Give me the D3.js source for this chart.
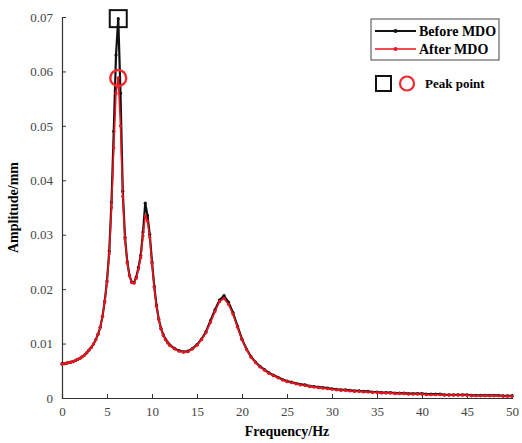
<!DOCTYPE html>
<html>
<head>
<meta charset="utf-8">
<script src="https://cdn.jsdelivr.net/npm/d3@7"></script>
<style>
  body { margin: 0; background: #fff; }
  svg text { font-family: "Liberation Serif", "Times New Roman", serif; }
</style>
</head>
<body>
<div id="chart"></div>
<script>
// frequency grid (Hz)
const freq = [
  0, 0.25, 0.5, 0.75, 1, 1.25, 1.5, 1.75, 2, 2.25, 2.5, 2.75, 3, 3.25, 3.5, 3.75,
  4, 4.25, 4.5, 4.75, 5, 5.25, 5.5, 5.75, 6, 6.25, 6.5, 6.75, 7, 7.25, 7.5, 7.75,
  8, 8.25, 8.5, 8.75, 9, 9.25, 9.5, 9.75, 10, 10.25, 10.5, 10.75, 11, 11.25, 11.5, 11.75, 12,
  12.5, 13, 13.5, 14, 14.5, 15, 15.5, 16, 16.5, 17, 17.5, 18, 18.5, 19, 19.5, 20,
  20.5, 21, 21.5, 22, 22.5, 23, 23.5, 24, 24.5, 25, 25.5, 26, 26.5, 27, 27.5, 28,
  28.5, 29, 29.5, 30, 30.5, 31, 31.5, 32, 32.5, 33, 33.5, 34, 34.5, 35, 35.5, 36,
  36.5, 37, 37.5, 38, 38.5, 39, 39.5, 40, 40.5, 41, 41.5, 42, 42.5, 43, 43.5, 44,
  44.5, 45, 45.5, 46, 46.5, 47, 47.5, 48, 48.5, 49, 49.5, 50
];

// amplitude (mm) before MDO
const before = [
  0.0063, 0.0063, 0.0064, 0.0065, 0.0066, 0.0067, 0.0069, 0.0071, 0.0073, 0.0076, 0.0079, 0.0083, 0.0088, 0.0093, 0.0099, 0.0107,
  0.0117, 0.0130, 0.0150, 0.0178, 0.0215, 0.0270, 0.0360, 0.0490, 0.0630, 0.0697, 0.0560, 0.0380, 0.0295, 0.0250, 0.0225, 0.0213,
  0.0212, 0.0222, 0.0240, 0.0262, 0.0305, 0.0358, 0.0335, 0.0300, 0.0250, 0.0205, 0.0170, 0.0145, 0.0128, 0.0116, 0.0108, 0.0102, 0.0097,
  0.0091, 0.0087, 0.0085, 0.0086, 0.0091, 0.0098, 0.0108, 0.0122, 0.0142, 0.0162, 0.0180, 0.0188, 0.0176, 0.0157, 0.0132, 0.0108,
  0.0090, 0.0076, 0.0066, 0.0058, 0.0052, 0.0046, 0.0042, 0.0038, 0.0034, 0.0031, 0.0029, 0.0027, 0.0025, 0.0024, 0.0022, 0.0021,
  0.0020, 0.0019, 0.0018, 0.0017, 0.0016, 0.0015, 0.0015, 0.0014, 0.0013, 0.0013, 0.0012, 0.0012, 0.0011, 0.0011, 0.0010, 0.0010,
  0.0010, 0.0009, 0.0009, 0.0009, 0.0008, 0.0008, 0.0008, 0.0008, 0.0007, 0.0007, 0.0007, 0.0007, 0.0006, 0.0006, 0.0006, 0.0006,
  0.0006, 0.0006, 0.0005, 0.0005, 0.0005, 0.0005, 0.0005, 0.0005, 0.0005, 0.0004, 0.0004, 0.0004
];

// amplitude (mm) after MDO
const after = [
  0.0062, 0.0063, 0.0064, 0.0065, 0.0066, 0.0067, 0.0069, 0.0071, 0.0073, 0.0076, 0.0079, 0.0083, 0.0088, 0.0093, 0.0099, 0.0107,
  0.0117, 0.0130, 0.0150, 0.0178, 0.0213, 0.0265, 0.0350, 0.0460, 0.0560, 0.0588, 0.0500, 0.0370, 0.0292, 0.0248, 0.0224, 0.0212,
  0.0211, 0.0220, 0.0237, 0.0258, 0.0298, 0.0335, 0.0325, 0.0295, 0.0247, 0.0203, 0.0168, 0.0144, 0.0127, 0.0115, 0.0107, 0.0101, 0.0096,
  0.0090, 0.0086, 0.0084, 0.0085, 0.0090, 0.0097, 0.0107, 0.0120, 0.0139, 0.0159, 0.0177, 0.0183, 0.0172, 0.0154, 0.0130, 0.0107,
  0.0089, 0.0075, 0.0065, 0.0057, 0.0051, 0.0045, 0.0041, 0.0037, 0.0033, 0.0030, 0.0028, 0.0026, 0.0024, 0.0023, 0.0021, 0.0020,
  0.0019, 0.0018, 0.0017, 0.0016, 0.0015, 0.0014, 0.0014, 0.0013, 0.0012, 0.0012, 0.0011, 0.0011, 0.0010, 0.0010, 0.0009, 0.0009,
  0.0009, 0.0008, 0.0008, 0.0008, 0.0007, 0.0007, 0.0007, 0.0007, 0.0006, 0.0006, 0.0006, 0.0006, 0.0005, 0.0005, 0.0005, 0.0005,
  0.0005, 0.0005, 0.0004, 0.0004, 0.0004, 0.0004, 0.0004, 0.0004, 0.0004, 0.0003, 0.0003, 0.0003
];

const xTicks = [0, 5, 10, 15, 20, 25, 30, 35, 40, 45, 50];
const yTicks = [0, 0.01, 0.02, 0.03, 0.04, 0.05, 0.06, 0.07];
const seriesNames = ['Before MDO', 'After MDO'];
const seriesColors = ['#111', '#e8141e'];

const W = 522, H = 443;
const margin = {top: 17, right: 10, bottom: 45, left: 62};
const width = W - margin.left - margin.right;
const height = H - margin.top - margin.bottom;

const svg = d3.select('#chart').append('svg')
  .attr('width', W)
  .attr('height', H);

const g = svg.append('g')
  .attr('transform', 'translate(' + margin.left + ',' + margin.top + ')');

const x = d3.scaleLinear().domain([0, 50]).range([0, width]);
const y = d3.scaleLinear().domain([0, 0.07]).range([height, 0]);

// axes, ticks pointing inward like matlab
const xAxis = g.append('g')
  .attr('transform', 'translate(0,' + height + ')')
  .call(d3.axisBottom(x).tickValues(xTicks).tickSize(-4).tickPadding(9).tickFormat(d3.format('d')));
const yAxis = g.append('g')
  .call(d3.axisLeft(y).tickValues(yTicks).tickSize(-4).tickPadding(9)
    .tickFormat(d => d === 0 ? '0' : d3.format('.2f')(d)));

[xAxis, yAxis].forEach(a => {
  a.select('.domain').attr('stroke', '#333').attr('stroke-width', 1.2);
  a.selectAll('.tick line').attr('stroke', '#333');
  a.selectAll('.tick text')
    .attr('fill', '#444')
    .style('font-size', '13px');
});

// curves
const data = [before, after].map(vals => freq.map((f, i) => ({f: f, v: vals[i]})));
const line = d3.line().x(d => x(d.f)).y(d => y(d.v));

data.forEach((pts, k) => {
  g.append('path')
    .datum(pts)
    .attr('fill', 'none')
    .attr('stroke', seriesColors[k])
    .attr('stroke-width', k === 0 ? 2.2 : 1.6)
    .attr('d', line);
  g.append('g').selectAll('circle')
    .data(pts)
    .enter()
    .append('circle')
    .attr('cx', d => x(d.f))
    .attr('cy', d => y(d.v))
    .attr('r', 1.6)
    .attr('fill', seriesColors[k]);
});

// peak markers
const iPeakB = d3.maxIndex(before);
const iPeakA = d3.maxIndex(after);
g.append('rect')
  .attr('x', x(freq[iPeakB]) - 8.5)
  .attr('y', y(before[iPeakB]) - 8.5)
  .attr('width', 17)
  .attr('height', 17)
  .attr('fill', 'none')
  .attr('stroke', '#111')
  .attr('stroke-width', 2);
g.append('circle')
  .attr('cx', x(freq[iPeakA]))
  .attr('cy', y(after[iPeakA]))
  .attr('r', 8)
  .attr('fill', 'none')
  .attr('stroke', '#f0282d')
  .attr('stroke-width', 2.4);

// axis labels
svg.append('text')
  .attr('x', margin.left + width / 2)
  .attr('y', 436)
  .attr('text-anchor', 'middle')
  .style('font-size', '14px')
  .style('font-weight', 'bold')
  .text('Frequency/Hz');

svg.append('text')
  .attr('transform', 'translate(18,' + (margin.top + height / 2) + ') rotate(-90)')
  .attr('text-anchor', 'middle')
  .style('font-size', '14px')
  .style('font-weight', 'bold')
  .text('Amplitude/mm');

// legend
const legend = svg.append('g');
legend.append('rect')
  .attr('x', 371).attr('y', 19)
  .attr('width', 128).attr('height', 41)
  .attr('fill', '#fff')
  .attr('stroke', '#444')
  .attr('stroke-width', 1);

seriesNames.forEach((name, k) => {
  const ly = 31 + k * 18;
  legend.append('line')
    .attr('x1', 375).attr('x2', 416)
    .attr('y1', ly).attr('y2', ly)
    .attr('stroke', seriesColors[k])
    .attr('stroke-width', k === 0 ? 2 : 1.6);
  legend.append('circle')
    .attr('cx', 395.5).attr('cy', ly).attr('r', 2)
    .attr('fill', seriesColors[k]);
  legend.append('text')
    .attr('x', 419).attr('y', ly + 5)
    .style('font-size', '14px')
    .style('font-weight', 'bold')
    .text(name);
});

legend.append('rect')
  .attr('x', 376).attr('y', 76)
  .attr('width', 15).attr('height', 15)
  .attr('fill', 'none')
  .attr('stroke', '#111')
  .attr('stroke-width', 2);
legend.append('circle')
  .attr('cx', 407).attr('cy', 83.5).attr('r', 7)
  .attr('fill', 'none')
  .attr('stroke', '#f0282d')
  .attr('stroke-width', 2.2);
legend.append('text')
  .attr('x', 425).attr('y', 88)
  .style('font-size', '13px')
  .style('font-weight', 'bold')
  .text('Peak point');
</script>
</body>
</html>
